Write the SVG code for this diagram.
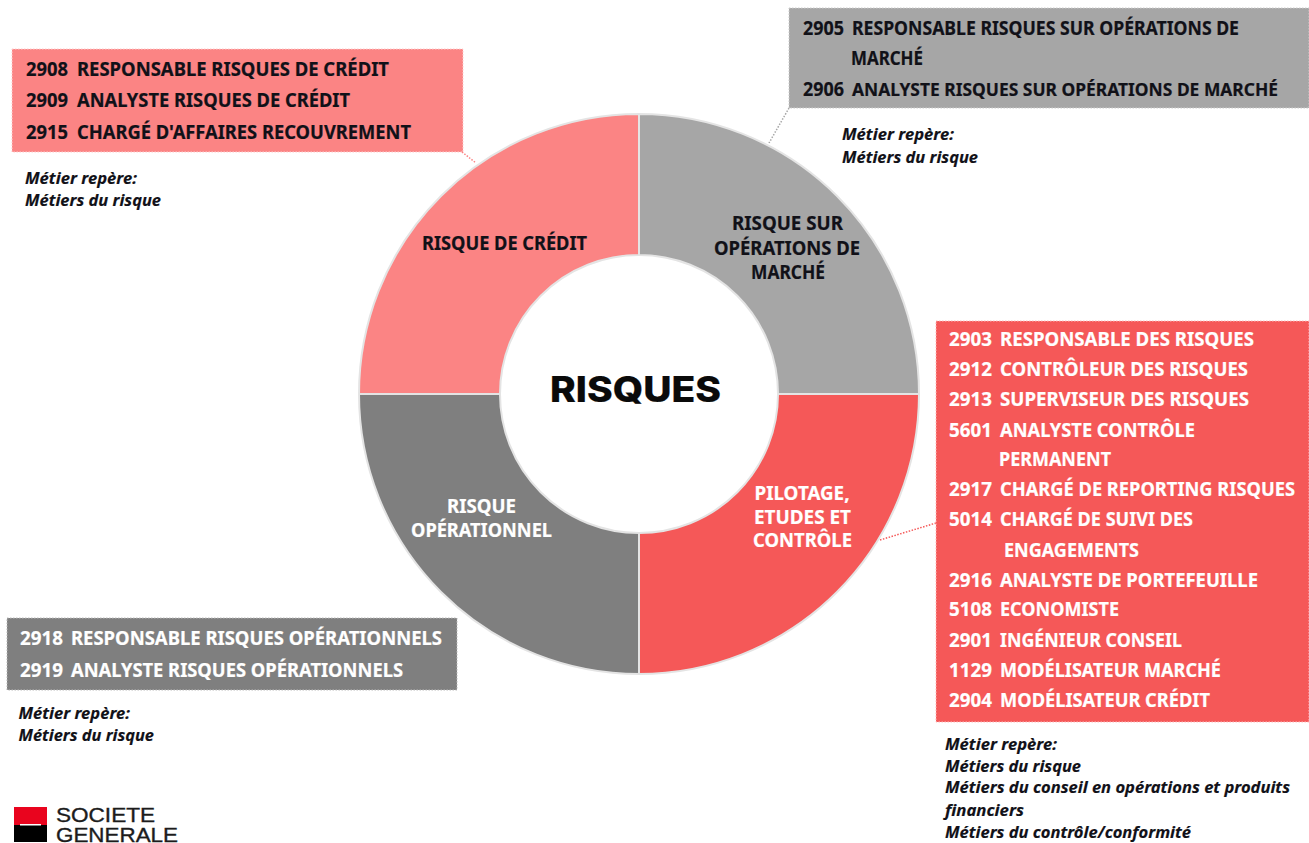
<svg xmlns="http://www.w3.org/2000/svg" width="1309" height="843" viewBox="0 0 1309 843">
<style>
text{font-family:"Noto Sans","Open Sans","Liberation Sans",sans-serif;font-weight:700;font-size:18.8px;fill:#111118;stroke:#111118;stroke-width:.2;white-space:pre}
.w{fill:#fff;stroke:#fff}
.n{font-size:18px}
.i{font-style:italic;font-size:15.5px;stroke-width:.15}
.s{stroke:#e4e4e4;stroke-width:2}
.box{stroke-width:1;stroke-dasharray:1.5 1.5}
.con{fill:none;stroke-width:1.5;stroke-dasharray:1.5 1.5}
.logo{font-family:"Liberation Sans",sans-serif;font-weight:400;font-size:20px;fill:#1c1c1c;stroke:#1c1c1c;stroke-width:.35}
</style>
<rect width="1309" height="843" fill="#fff"/>
<g id="ring">
<path id="seg-credit" class="s" fill="#fb8484" d="M639 114A280 280 0 0 0 359 394H500A139 139 0 0 1 639 255Z"/>
<path id="seg-marche" class="s" fill="#a6a6a6" d="M639 114A280 280 0 0 1 919 394H778A139 139 0 0 0 639 255Z"/>
<path id="seg-pilotage" class="s" fill="#f55858" d="M919 394A280 280 0 0 1 639 674V533A139 139 0 0 0 778 394Z"/>
<path id="seg-oper" class="s" fill="#7f7f7f" d="M639 674A280 280 0 0 1 359 394H500A139 139 0 0 0 639 533Z"/>
<text x="422" y="250" textLength="165" lengthAdjust="spacingAndGlyphs">RISQUE DE CRÉDIT</text>
<text x="732" y="230" textLength="111" lengthAdjust="spacingAndGlyphs">RISQUE SUR</text>
<text x="714" y="255" textLength="146" lengthAdjust="spacingAndGlyphs">OPÉRATIONS DE</text>
<text x="751" y="279" textLength="74" lengthAdjust="spacingAndGlyphs">MARCHÉ</text>
<text class="w" x="754.500" y="499.500" textLength="95" lengthAdjust="spacingAndGlyphs">PILOTAGE,</text>
<text class="w" x="754" y="523.500" textLength="97" lengthAdjust="spacingAndGlyphs">ETUDES ET</text>
<text class="w" x="753" y="547" textLength="99" lengthAdjust="spacingAndGlyphs">CONTRÔLE</text>
<text class="w" x="447" y="513" textLength="69" lengthAdjust="spacingAndGlyphs">RISQUE</text>
<text class="w" x="411" y="537" textLength="141" lengthAdjust="spacingAndGlyphs">OPÉRATIONNEL</text>
<text x="550" y="402" style="font-family:Inter,'Noto Sans',sans-serif;font-weight:800;font-size:35px;fill:#0a0a0a;stroke:#0a0a0a" textLength="171" lengthAdjust="spacingAndGlyphs">RISQUES</text>
</g>
<g id="connectors">
<path class="con" stroke="#fb8484" d="M462 152L476 163"/>
<path class="con" stroke="#a6a6a6" d="M789 108L769 143"/>
<path class="con" stroke="#f55858" d="M936 523L880 540"/>
</g>
<g id="box-credit">
<rect class="box" x="12" y="49" width="451" height="103" fill="#fb8484" stroke="#fcc"/>
<text x="26" y="76" textLength="42" lengthAdjust="spacingAndGlyphs">2908</text><text x="77" y="76" textLength="312" lengthAdjust="spacingAndGlyphs">RESPONSABLE RISQUES DE CRÉDIT</text>
<text x="26" y="107" textLength="42" lengthAdjust="spacingAndGlyphs">2909</text><text x="77" y="107" textLength="273" lengthAdjust="spacingAndGlyphs">ANALYSTE RISQUES DE CRÉDIT</text>
<text x="26" y="138.500" textLength="42" lengthAdjust="spacingAndGlyphs">2915</text><text x="77" y="138.500" textLength="334" lengthAdjust="spacingAndGlyphs">CHARGÉ D'AFFAIRES RECOUVREMENT</text>
<text class="i" x="25" y="184" textLength="112" lengthAdjust="spacingAndGlyphs">Métier repère:</text>
<text class="i" x="25" y="206" textLength="136" lengthAdjust="spacingAndGlyphs">Métiers du risque</text>
</g>
<g id="box-marche">
<rect class="box" x="789" y="8" width="520" height="100" fill="#a6a6a6" stroke="#ccc"/>
<text x="803" y="35" textLength="41" lengthAdjust="spacingAndGlyphs">2905</text><text x="852" y="35" textLength="387" lengthAdjust="spacingAndGlyphs">RESPONSABLE RISQUES SUR OPÉRATIONS DE</text>
<text x="851" y="65" textLength="72" lengthAdjust="spacingAndGlyphs">MARCHÉ</text>
<text x="803" y="96" textLength="41" lengthAdjust="spacingAndGlyphs">2906</text><text class="n" x="852" y="96" textLength="426" lengthAdjust="spacingAndGlyphs">ANALYSTE RISQUES SUR OPÉRATIONS DE MARCHÉ</text>
<text class="i" x="842" y="140" textLength="112" lengthAdjust="spacingAndGlyphs">Métier repère:</text>
<text class="i" x="842" y="163" textLength="136" lengthAdjust="spacingAndGlyphs">Métiers du risque</text>
</g>
<g id="box-pilotage">
<rect class="box" x="936" y="321" width="373" height="401" fill="#f55858" stroke="#fbb"/>
<text class="w" x="949" y="346" textLength="43" lengthAdjust="spacingAndGlyphs">2903</text><text class="w" x="1000" y="346" textLength="254" lengthAdjust="spacingAndGlyphs">RESPONSABLE DES RISQUES</text>
<text class="w" x="949" y="376" textLength="43" lengthAdjust="spacingAndGlyphs">2912</text><text class="w" x="1000" y="376" textLength="248" lengthAdjust="spacingAndGlyphs">CONTRÔLEUR DES RISQUES</text>
<text class="w" x="949" y="406" textLength="43" lengthAdjust="spacingAndGlyphs">2913</text><text class="w" x="1000" y="406" textLength="249" lengthAdjust="spacingAndGlyphs">SUPERVISEUR DES RISQUES</text>
<text class="w" x="949" y="437" textLength="43" lengthAdjust="spacingAndGlyphs">5601</text><text class="w" x="1000" y="437" textLength="195" lengthAdjust="spacingAndGlyphs">ANALYSTE CONTRÔLE</text>
<text class="w" x="999" y="466" textLength="112" lengthAdjust="spacingAndGlyphs">PERMANENT</text>
<text class="w" x="949" y="496" textLength="43" lengthAdjust="spacingAndGlyphs">2917</text><text class="w" x="1000" y="496" textLength="295" lengthAdjust="spacingAndGlyphs">CHARGÉ DE REPORTING RISQUES</text>
<text class="w" x="949" y="526" textLength="43" lengthAdjust="spacingAndGlyphs">5014</text><text class="w" x="1000" y="526" textLength="193" lengthAdjust="spacingAndGlyphs">CHARGÉ DE SUIVI DES</text>
<text class="w" x="1004" y="557" textLength="135" lengthAdjust="spacingAndGlyphs">ENGAGEMENTS</text>
<text class="w" x="949" y="587" textLength="43" lengthAdjust="spacingAndGlyphs">2916</text><text class="w" x="1000" y="587" textLength="258" lengthAdjust="spacingAndGlyphs">ANALYSTE DE PORTEFEUILLE</text>
<text class="w" x="949" y="616" textLength="43" lengthAdjust="spacingAndGlyphs">5108</text><text class="w" x="1000" y="616" textLength="119" lengthAdjust="spacingAndGlyphs">ECONOMISTE</text>
<text class="w" x="949" y="647" textLength="43" lengthAdjust="spacingAndGlyphs">2901</text><text class="w" x="1000" y="647" textLength="182" lengthAdjust="spacingAndGlyphs">INGÉNIEUR CONSEIL</text>
<text class="w" x="949" y="677" textLength="43" lengthAdjust="spacingAndGlyphs">1129</text><text class="w" x="1000" y="677" textLength="221" lengthAdjust="spacingAndGlyphs">MODÉLISATEUR MARCHÉ</text>
<text class="w" x="949" y="707" textLength="43" lengthAdjust="spacingAndGlyphs">2904</text><text class="w" x="1000" y="707" textLength="210" lengthAdjust="spacingAndGlyphs">MODÉLISATEUR CRÉDIT</text>
<text class="i" x="945" y="750" textLength="112" lengthAdjust="spacingAndGlyphs">Métier repère:</text>
<text class="i" x="945" y="772" textLength="136" lengthAdjust="spacingAndGlyphs">Métiers du risque</text>
<text class="i" x="945" y="793" textLength="345" lengthAdjust="spacingAndGlyphs">Métiers du conseil en opérations et produits</text>
<text class="i" x="945" y="816" textLength="79" lengthAdjust="spacingAndGlyphs">financiers</text>
<text class="i" x="945" y="838" textLength="246" lengthAdjust="spacingAndGlyphs">Métiers du contrôle/conformité</text>
</g>
<g id="box-oper">
<rect class="box" x="7" y="618" width="450" height="72" fill="#7f7f7f" stroke="#bbb"/>
<text class="w" x="20" y="645" textLength="43" lengthAdjust="spacingAndGlyphs">2918</text><text class="w" x="71" y="645" textLength="371" lengthAdjust="spacingAndGlyphs">RESPONSABLE RISQUES OPÉRATIONNELS</text>
<text class="w" x="20" y="677" textLength="43" lengthAdjust="spacingAndGlyphs">2919</text><text class="w" x="71" y="677" textLength="332" lengthAdjust="spacingAndGlyphs">ANALYSTE RISQUES OPÉRATIONNELS</text>
<text class="i" x="18.500" y="719" textLength="111.500" lengthAdjust="spacingAndGlyphs">Métier repère:</text>
<text class="i" x="18.500" y="740.500" textLength="135.500" lengthAdjust="spacingAndGlyphs">Métiers du risque</text>
</g>
<g id="logo">
<rect x="14" y="807" width="33" height="17" fill="#e9041e"/>
<rect x="14" y="825" width="33" height="17" fill="#000"/>
<rect x="14" y="824" width="6" height="1" fill="#e9041e"/>
<rect x="41" y="824" width="6" height="1" fill="#e9041e"/>
<rect x="20" y="824" width="21" height="1.500" fill="#fff"/>
<text class="logo" x="56" y="822" textLength="99" lengthAdjust="spacingAndGlyphs">SOCIETE</text>
<text class="logo" x="56" y="841.500" textLength="122" lengthAdjust="spacingAndGlyphs">GENERALE</text>
</g>
</svg>
